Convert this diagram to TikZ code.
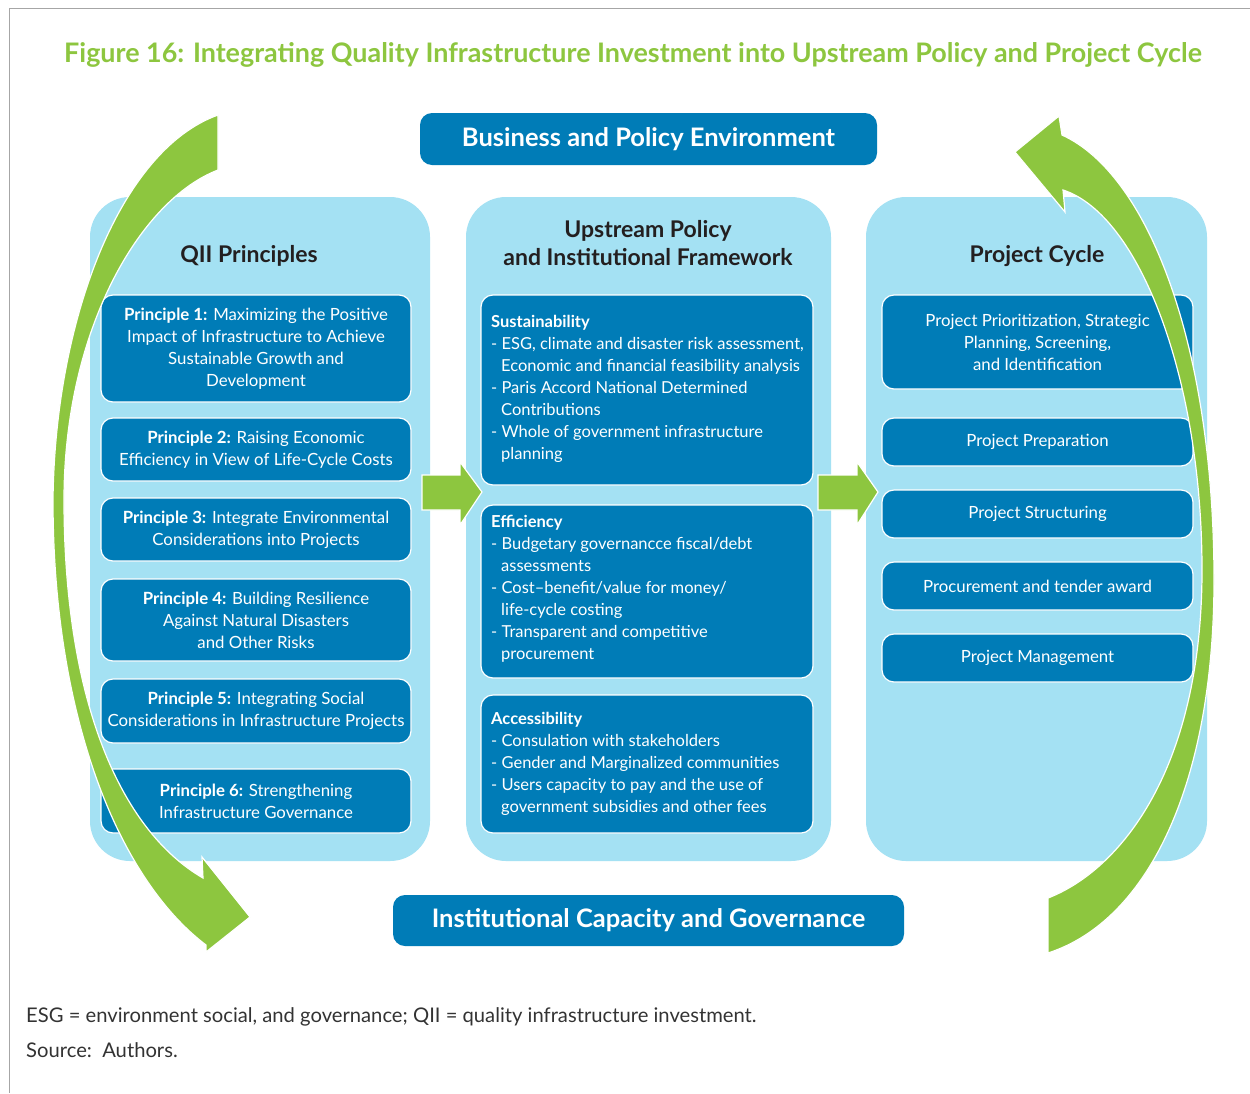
\documentclass[tikz,border=0pt]{standalone}
\usepackage{fontspec}
\setmainfont{Lato}
\definecolor{leafgreen}{HTML}{8DC63F}
\definecolor{boxblue}{HTML}{007CB7}
\definecolor{panelblue}{HTML}{A4E1F3}
\definecolor{headink}{HTML}{231F20}
\definecolor{noteink}{HTML}{333333}
\definecolor{framegray}{HTML}{A6A6A6}

\tikzset{
  panel/.style={fill=panelblue, rounded corners=40pt, inner sep=0pt},
  itembox/.style={fill=boxblue, draw=white, line width=1.2pt, rounded corners=12pt,
    inner sep=0pt, text=white, align=center, font=\fontsize{16.8}{22}\selectfont},
  banner/.style={fill=boxblue, rounded corners=12pt, inner sep=0pt, text=white,
    font=\bfseries\fontsize{25.5}{30}\selectfont},
  colhead/.style={text=headink, font=\bfseries\fontsize{23}{29}\selectfont,
    align=center, inner sep=0pt},
  listtext/.style={text=white, font=\fontsize{16.5}{22}\selectfont, align=left, inner sep=0pt},
  greenshape/.style={fill=leafgreen, draw=white, line width=1.2pt, line join=miter},
  note/.style={text=noteink, font=\fontsize{20.2}{24}\selectfont, inner sep=0pt, anchor=base west}
}
\newcommand{\hang}{\hspace*{10pt}}

\begin{document}
\begin{tikzpicture}[x=1pt,y=-1pt]
\useasboundingbox (0,0) rectangle (1250,1093);
\fill[white] (0,0) rectangle (1250,1093);

% frame
\draw[framegray, line width=1pt] (1250,8) -- (9,8) -- (9,1093);

% title
\node[font=\bfseries\fontsize{26.9}{30}\selectfont, text=leafgreen, anchor=base, inner sep=0pt]
  (title) at (633,62) {Figure 16: Integrating Quality Infrastructure Investment into Upstream Policy and Project Cycle};

% banners
\node[banner, minimum width=457pt, minimum height=52pt] (bpe) at (648.5,139) {Business and Policy Environment};
\node[banner, minimum width=511pt, minimum height=51pt] (icg) at (648.5,920.5) {Institutional Capacity and Governance};

% column panels
\node[panel, minimum width=340pt, minimum height=664pt] (lpanel) at (260,529) {};
\node[panel, minimum width=365pt, minimum height=664pt] (mpanel) at (648.5,529) {};
\node[panel, minimum width=341pt, minimum height=664pt] (rpanel) at (1036.5,529) {};

% column headings
\node[colhead, anchor=base] (lhead) at (249,262) {QII Principles};
\node[colhead, anchor=base] (mhead1) at (648,237) {Upstream Policy};
\node[colhead, anchor=base] (mhead2) at (648,265) {and Institutional Framework};
\node[colhead, anchor=base] (rhead) at (1037,262) {Project Cycle};

% QII principles
\node[itembox, minimum width=310pt, minimum height=107pt] (p1) at (256,348.5)
  {\textbf{Principle 1:} Maximizing the Positive\\Impact of Infrastructure to Achieve\\Sustainable Growth and\\Development};
\node[itembox, minimum width=310pt, minimum height=63pt] (p2) at (256,449.5)
  {\textbf{Principle 2:} Raising Economic\\Efficiency in View of Life-Cycle Costs};
\node[itembox, minimum width=310pt, minimum height=63pt] (p3) at (256,529.5)
  {\textbf{Principle 3:} Integrate Environmental\\Considerations into Projects};
\node[itembox, minimum width=310pt, minimum height=82pt] (p4) at (256,620)
  {\textbf{Principle 4:} Building Resilience\\Against Natural Disasters\\and Other Risks};
\node[itembox, minimum width=310pt, minimum height=64pt] (p5) at (256,711)
  {\textbf{Principle 5:} Integrating Social\\Considerations in Infrastructure Projects};
\node[itembox, minimum width=310pt, minimum height=64pt] (p6) at (256,801)
  {\textbf{Principle 6:} Strengthening\\Infrastructure Governance};

% upstream policy blocks
\node[itembox, minimum width=332pt, minimum height=190pt] (sust) at (647,390) {};
\node[itembox, minimum width=332pt, minimum height=173pt] (effi) at (647,591.5) {};
\node[itembox, minimum width=332pt, minimum height=138pt] (acce) at (647,764) {};

\node[listtext, anchor=north west] (sust-t) at (491,315)
  {\textbf{Sustainability}\\
   - ESG, climate and disaster risk assessment,\\
   \hang Economic and financial feasibility analysis\\
   - Paris Accord National Determined\\
   \hang Contributions\\
   - Whole of government infrastructure\\
   \hang planning};
\node[listtext, anchor=north west] (effi-t) at (491,515)
  {\textbf{Efficiency}\\
   - Budgetary governancce fiscal/debt\\
   \hang assessments\\
   - Cost–benefit/value for money/\\
   \hang life-cycle costing\\
   - Transparent and competitive\\
   \hang procurement};
\node[listtext, anchor=north west] (acce-t) at (491,712)
  {\textbf{Accessibility}\\
   - Consulation with stakeholders\\
   - Gender and Marginalized communities\\
   - Users capacity to pay and the use of\\
   \hang government subsidies and other fees};

% project cycle stages
\node[itembox, minimum width=311pt, minimum height=94pt] (c1) at (1037.5,342)
  {Project Prioritization, Strategic\\Planning, Screening,\\and Identification};
\node[itembox, minimum width=311pt, minimum height=48pt] (c2) at (1037.5,442) {Project Preparation};
\node[itembox, minimum width=311pt, minimum height=48pt] (c3) at (1037.5,514) {Project Structuring};
\node[itembox, minimum width=311pt, minimum height=48pt] (c4) at (1037.5,586) {Procurement and tender award};
\node[itembox, minimum width=311pt, minimum height=48pt] (c5) at (1037.5,658) {Project Management};

% block arrows between the columns
\draw[greenshape] (422,475) -- (460,475) -- (460,462) -- (482,492) -- (460,525) -- (460,510) -- (422,510) -- cycle;
\draw[greenshape] (818,475) -- (857,475) -- (857,462) -- (878,492) -- (857,525) -- (857,510) -- (818,510) -- cycle;

% curved arrow on the left, sweeping down
\draw[greenshape] (218,115) .. controls (120,150) and (55,320) .. (53,500)
  .. controls (53,720) and (120,880) .. (206,945) -- (206,952) -- (250,917) -- (202,857) -- (203,878)
  .. controls (120,830) and (64,700) .. (64,500)
  .. controls (64,330) and (140,200) .. (218,170) -- cycle;

% curved arrow on the right, sweeping up
\draw[greenshape] (1048,953) -- (1048,898) .. controls (1120,870) and (1202,770) .. (1202,570)
  .. controls (1202,380) and (1140,215) .. (1063,190) -- (1065,212) -- (1015,152) -- (1059,116) -- (1062,135)
  .. controls (1150,175) and (1214,350) .. (1214,580)
  .. controls (1214,780) and (1150,920) .. (1048,953) -- cycle;

% notes
\node[note] (abbr) at (26,1022) {ESG = environment social, and governance; QII = quality infrastructure investment.};
\node[note] (src) at (26,1057) {Source:\ \ Authors.};
\end{tikzpicture}
\end{document}
